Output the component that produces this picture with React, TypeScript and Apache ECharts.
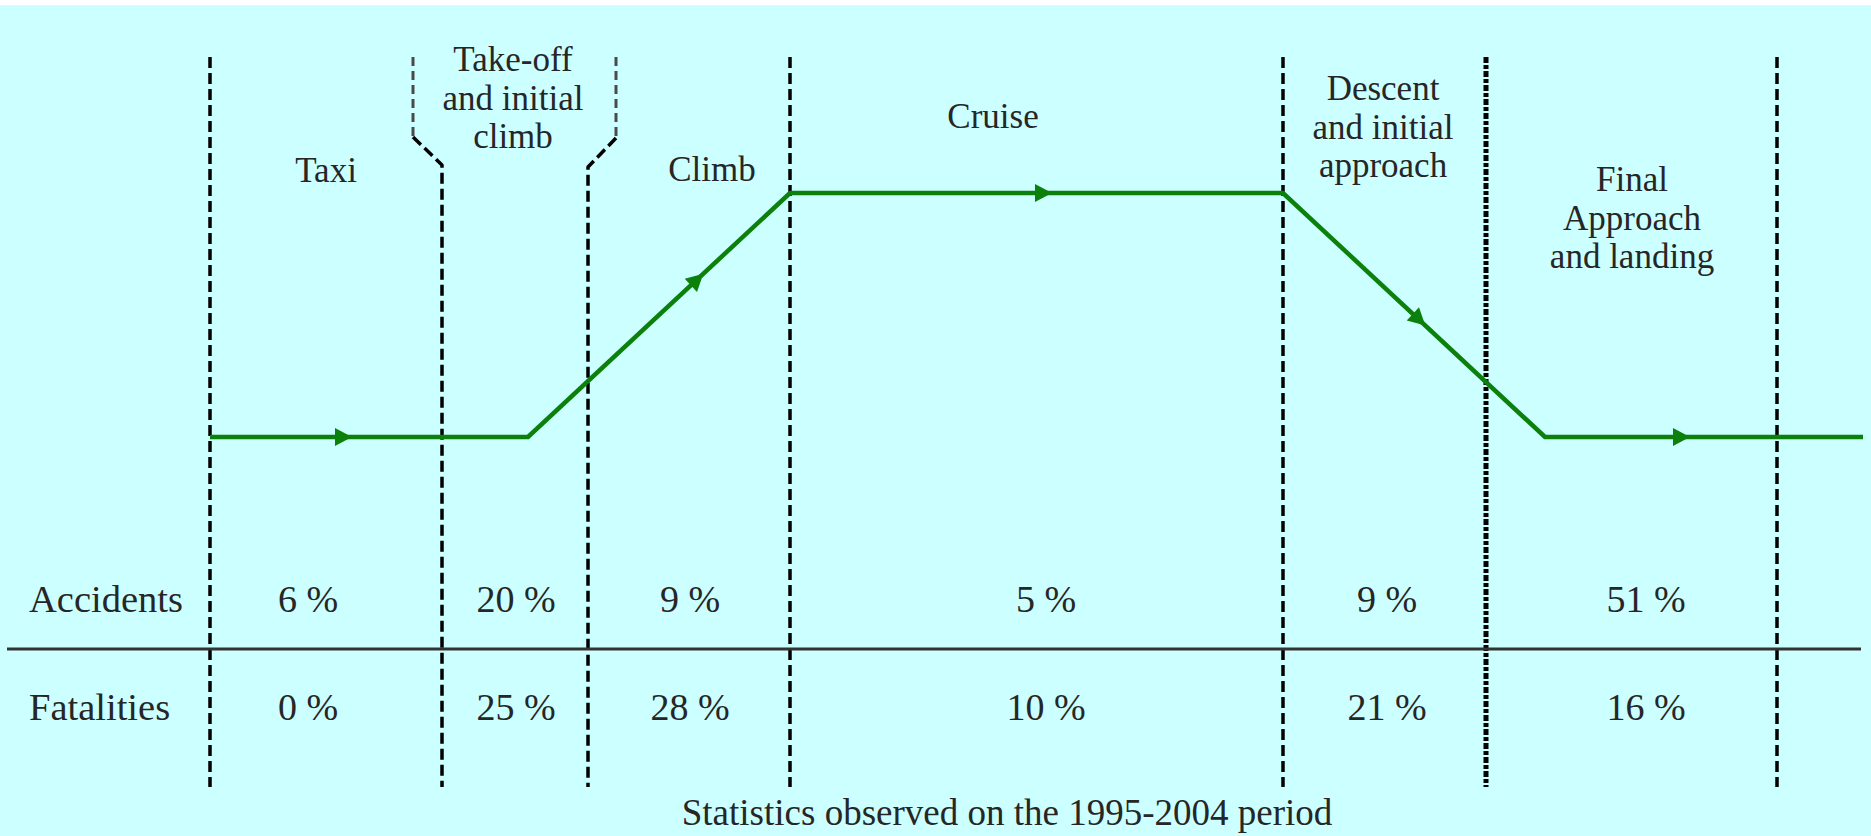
import React, { useEffect, useRef } from "react";
import * as echarts from "echarts";

const W = 1871;
const H = 836;

// Phase titles (text) and their label anchor positions on the layout axes
const phaseNames = [
  "Taxi",
  "Take-off\nand initial\nclimb",
  "Climb",
  "Cruise",
  "Descent\nand initial\napproach",
  "Final\nApproach\nand landing",
];
const phaseLabelX = [326, 513, 712, 993, 1383, 1632];
const phaseLabelY = [170, 98, 169, 116, 127, 218];

// Table
const rowNames = ["Accidents", "Fatalities"];
const accidents = [6, 20, 9, 5, 9, 51];
const fatalities = [0, 25, 28, 10, 21, 16];
const valueX = [308, 516, 690, 1046, 1387, 1646];
const rowY = [599, 707];
const rowNameX = 29;
const footer = "Statistics observed on the 1995-2004 period";

// Phase boundaries (along-track units)
const dashedBounds = [210, 790, 1283, 1777];
const denseBounds = [1486];
const boundTop = 57;
const boundBottom = 787;
const bracketLeftUpper = [[413, 57], [413, 137]];
const bracketLeftLower = [[413, 137], [442, 165], [442, 787]];
const bracketRightUpper = [[616, 57], [616, 138]];
const bracketRightLower = [[616, 138], [588, 167], [588, 787]];
const separatorY = 649;
const separatorX = [7, 1861];

// Flight profile: along-track position and altitude level (0 = ground, 1 = cruise)
const trackX = [210, 528, 790, 1283, 1545, 1863];
const altitude = [0, 0, 1, 1, 0, 0];
const arrowX = [342, 696, 1042, 1418, 1680];

const FONT = "'Liberation Serif', 'Times New Roman', serif";
const TEXT = "#262626";

function altAt(x: number): number {
  for (let i = 0; i < trackX.length - 1; i++) {
    if (x >= trackX[i] && x <= trackX[i + 1]) {
      const t = (x - trackX[i]) / (trackX[i + 1] - trackX[i]);
      return altitude[i] + t * (altitude[i + 1] - altitude[i]);
    }
  }
  return 0;
}
function segAt(x: number): number {
  for (let i = 0; i < trackX.length - 1; i++) {
    if (x >= trackX[i] && x <= trackX[i + 1]) return i;
  }
  return 0;
}

export default function App() {
  const ref = useRef<HTMLDivElement>(null);
  useEffect(() => {
    if (!ref.current) return;
    const chart = echarts.init(ref.current, null, { renderer: "svg" });

    const texts: { x: number; y: number; text: string; align: string; size: number }[] = [];
    phaseNames.forEach((n, i) =>
      texts.push({ x: phaseLabelX[i], y: phaseLabelY[i], text: n, align: "center", size: 35 })
    );
    rowNames.forEach((n, i) => texts.push({ x: rowNameX, y: rowY[i], text: n, align: "left", size: 38.5 }));
    accidents.forEach((v, i) => texts.push({ x: valueX[i], y: rowY[0], text: v + " %", align: "center", size: 38 }));
    fatalities.forEach((v, i) => texts.push({ x: valueX[i], y: rowY[1], text: v + " %", align: "center", size: 38 }));
    texts.push({ x: 1007, y: 812, text: footer, align: "center", size: 37 });

    const series: any[] = [];
    const blackDash = { color: "#000", width: 3.5, type: [11, 5] };
    dashedBounds.forEach((x) =>
      series.push({
        type: "line", yAxisIndex: 1, symbol: "none", silent: true, z: 2,
        data: [[x, boundTop], [x, boundBottom]], lineStyle: blackDash,
      })
    );
    denseBounds.forEach((x) =>
      series.push({
        type: "line", yAxisIndex: 1, symbol: "none", silent: true, z: 2,
        data: [[x, boundTop], [x, boundBottom]],
        lineStyle: { color: "#000", width: 5, type: [6, 2, 4, 2] },
      })
    );
    [bracketLeftUpper, bracketRightUpper].forEach((d) =>
      series.push({
        type: "line", yAxisIndex: 1, symbol: "none", silent: true, z: 2,
        data: d, lineStyle: { color: "#4a4a4a", width: 3, type: [9, 5] },
      })
    );
    [bracketLeftLower, bracketRightLower].forEach((d) =>
      series.push({
        type: "line", yAxisIndex: 1, symbol: "none", silent: true, z: 2,
        data: d, lineStyle: blackDash,
      })
    );
    series.push({
      type: "line", yAxisIndex: 1, symbol: "none", silent: true, z: 2,
      data: [[separatorX[0], separatorY], [separatorX[1], separatorY]],
      lineStyle: { color: "#333", width: 3 },
    });
    series.push({
      type: "line", yAxisIndex: 0, symbol: "none", silent: true, z: 5,
      data: trackX.map((x, i) => [x, altitude[i]]),
      lineStyle: { color: "#0b800b", width: 4.5, join: "miter" },
    });
    series.push({
      type: "custom", yAxisIndex: 0, silent: true, z: 6, clip: false,
      data: arrowX.map((x) => [x, altAt(x)]),
      renderItem: (params: any, api: any) => {
        const x = api.value(0);
        const s = segAt(x);
        const p0 = api.coord([trackX[s], altitude[s]]);
        const p1 = api.coord([trackX[s + 1], altitude[s + 1]]);
        const c = api.coord([x, api.value(1)]);
        const dx = p1[0] - p0[0];
        const dy = p1[1] - p0[1];
        const len = Math.hypot(dx, dy) || 1;
        const ux = dx / len, uy = dy / len;
        const nx = -uy, ny = ux;
        return {
          type: "polygon",
          shape: {
            points: [
              [c[0] + ux * 10, c[1] + uy * 10],
              [c[0] - ux * 7 + nx * 9, c[1] - uy * 7 + ny * 9],
              [c[0] - ux * 7 - nx * 9, c[1] - uy * 7 - ny * 9],
            ],
          },
          style: { fill: "#0b800b" },
        };
      },
    });
    series.push({
      type: "custom", yAxisIndex: 1, silent: true, z: 7, clip: false,
      data: texts.map((t) => [t.x, t.y]),
      renderItem: (params: any, api: any) => {
        const t = texts[params.dataIndex];
        const p = api.coord([api.value(0), api.value(1)]);
        return {
          type: "text",
          x: p[0],
          y: p[1],
          style: {
            text: t.text,
            fill: TEXT,
            fontSize: t.size,
            fontFamily: FONT,
            align: t.align,
            verticalAlign: "middle",
            lineHeight: 38.5,
          },
        };
      },
    });

    const pxPerUnit = 437 - 193;
    chart.setOption({
      animation: false,
      backgroundColor: "#CCFFFF",
      grid: { left: 0, right: 0, top: 0, bottom: 0 },
      xAxis: { type: "value", min: 0, max: W, show: false },
      yAxis: [
        { type: "value", min: -(H - 437) / pxPerUnit, max: 437 / pxPerUnit, show: false },
        { type: "value", min: 0, max: H, inverse: true, show: false },
      ],
      graphic: [
        { type: "rect", left: 0, top: 0, shape: { width: W, height: 5 }, style: { fill: "#ffffff" }, silent: true },
      ],
      series,
    });
    return () => chart.dispose();
  }, []);
  return <div ref={ref} style={{ position: "absolute", left: 0, top: 0, width: W, height: H }} />;
}
